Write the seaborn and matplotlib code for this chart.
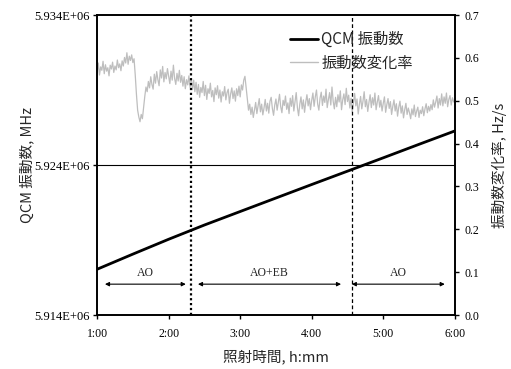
import matplotlib
matplotlib.use("Agg")
import matplotlib.pyplot as plt
from matplotlib.lines import Line2D
import seaborn as sns
import pandas as pd

# ---- data ----
qcm_hours = [1.0, 1.5, 2.0, 2.5, 3.0, 3.5, 4.0, 4.5, 5.0, 5.5, 6.0]
qcm_freq = [5.91705e6, 5.91806e6, 5.91905e6, 5.92000e6, 5.92090e6, 5.92180e6,
            5.92270e6, 5.92359e6, 5.92448e6, 5.92538e6, 5.92627e6]

# rate of change, sampled every minute from 1:00 to 6:00
rate_values = [
    0.566, 0.588, 0.560, 0.579, 0.571, 0.592, 0.563, 0.584, 0.569, 0.577,
    0.558, 0.583, 0.574, 0.590, 0.566, 0.581, 0.572, 0.595, 0.577, 0.586,
    0.570, 0.593, 0.581, 0.601, 0.588, 0.612, 0.585, 0.604, 0.594, 0.607,
    0.589, 0.598, 0.560, 0.515, 0.478, 0.462, 0.451, 0.468, 0.458, 0.484,
    0.510, 0.532, 0.521, 0.545, 0.530, 0.556, 0.538, 0.527, 0.562, 0.541,
    0.568, 0.549, 0.535, 0.572, 0.553, 0.580, 0.544, 0.566, 0.551, 0.575,
    0.557, 0.540, 0.569, 0.548, 0.583, 0.552, 0.538, 0.564, 0.546, 0.571,
    0.543, 0.559, 0.534, 0.556, 0.528, 0.549, 0.537, 0.558, 0.531, 0.552,
    0.526, 0.548, 0.521, 0.543, 0.515, 0.538, 0.508, 0.531, 0.519, 0.545,
    0.512, 0.536, 0.503, 0.528, 0.517, 0.541, 0.509, 0.524, 0.498, 0.530,
    0.514, 0.535, 0.506, 0.525, 0.497, 0.521, 0.511, 0.533, 0.502, 0.519,
    0.527, 0.494, 0.516, 0.530, 0.505, 0.523, 0.499, 0.528, 0.512, 0.534,
    0.509, 0.537, 0.525, 0.548, 0.557, 0.531, 0.503, 0.478, 0.492, 0.468,
    0.485, 0.461, 0.479, 0.496, 0.470, 0.488, 0.505, 0.474, 0.492, 0.467,
    0.483, 0.503, 0.476, 0.494, 0.471, 0.499, 0.508, 0.482, 0.466, 0.490,
    0.504, 0.478, 0.497, 0.515, 0.486, 0.472, 0.501, 0.489, 0.511, 0.480,
    0.495, 0.470, 0.506, 0.487, 0.512, 0.476, 0.498, 0.519, 0.484, 0.465,
    0.492, 0.509, 0.481, 0.502, 0.473, 0.497, 0.514, 0.488, 0.505, 0.479,
    0.501, 0.518, 0.487, 0.509, 0.525, 0.492, 0.478, 0.506, 0.520, 0.489,
    0.511, 0.496, 0.527, 0.484, 0.503, 0.519, 0.490, 0.532, 0.499, 0.481,
    0.508, 0.486, 0.514, 0.497, 0.523, 0.479, 0.502, 0.516, 0.491, 0.529,
    0.498, 0.513, 0.483, 0.506, 0.474, 0.495, 0.517, 0.488, 0.504, 0.469,
    0.492, 0.510, 0.481, 0.499, 0.521, 0.486, 0.503, 0.475, 0.496, 0.514,
    0.484, 0.507, 0.490, 0.518, 0.479, 0.497, 0.512, 0.485, 0.501, 0.476,
    0.494, 0.509, 0.473, 0.491, 0.505, 0.482, 0.498, 0.468, 0.487, 0.502,
    0.476, 0.493, 0.464, 0.485, 0.499, 0.471, 0.488, 0.460, 0.479, 0.494,
    0.468, 0.483, 0.472, 0.458, 0.481, 0.467, 0.490, 0.463, 0.476, 0.485,
    0.461, 0.478, 0.470, 0.486, 0.465, 0.481, 0.493, 0.472, 0.487, 0.476,
    0.491, 0.479, 0.502, 0.485, 0.497, 0.511, 0.483, 0.505, 0.490, 0.516,
    0.488, 0.509, 0.494, 0.518, 0.486, 0.503, 0.512, 0.490, 0.507, 0.498,
    0.495,
]
rate_start_hour = 1.0
rate_step_min = 1

x_ticks = [1, 2, 3, 4, 5, 6]
x_tick_labels = ["1:00", "2:00", "3:00", "4:00", "5:00", "6:00"]
y_left_ticks = [5.914e6, 5.924e6, 5.934e6]
y_right_ticks = [0.0, 0.1, 0.2, 0.3, 0.4, 0.5, 0.6, 0.7]

boundaries = [2.317, 4.557]
segments = [(1.11, 2.24, "AO"), (2.41, 4.41, "AO+EB"), (4.56, 5.86, "AO")]

series_labels = ["QCM 振動数", "振動数変化率"]

# ---- build frames ----
rate_hours = [rate_start_hour + i * rate_step_min / 60 for i in range(len(rate_values))]
df_qcm = pd.DataFrame({"t": qcm_hours, "f": qcm_freq})
df_rate = pd.DataFrame({"t": rate_hours, "r": rate_values})

sns.set_style("ticks")
cjk = ["Noto Sans CJK JP", "DejaVu Sans"]
serif = ["Liberation Serif", "DejaVu Serif"]
plt.rcParams["font.family"] = cjk

fig = plt.figure(figsize=(5.11, 3.69), dpi=100)
ax = fig.add_axes([0.19, 0.1463, 0.700, 0.8130])
ax2 = ax.twinx()

gray = "#bebebe"
sns.lineplot(data=df_rate, x="t", y="r", ax=ax2, color=gray, lw=0.9, zorder=2)
ax.set_zorder(ax2.get_zorder() + 1)
ax.patch.set_visible(False)
sns.lineplot(data=df_qcm, x="t", y="f", ax=ax, color="black", lw=2.0, zorder=3)

ax.set_xlim(1, 6)
ax.set_ylim(5.914e6, 5.934e6)
ax2.set_ylim(0, 0.7)

ax.set_xticks(x_ticks)
ax.set_xticklabels(x_tick_labels, family=serif, fontsize=8.5)
ax.set_yticks(y_left_ticks)
ax.set_yticklabels(["{:.3E}".format(v) for v in y_left_ticks], family=serif, fontsize=9)
ax2.set_yticks(y_right_ticks)
ax2.set_yticklabels(["{:.1f}".format(v) for v in y_right_ticks], family=serif, fontsize=8.5)

ax.axhline(5.924e6, color="black", lw=0.8, zorder=1)

for a in (ax, ax2):
    for s in a.spines.values():
        s.set_visible(True)
        s.set_linewidth(1.2)
        s.set_color("black")
    a.tick_params(direction="out", length=3, width=1, colors="black")
ax.tick_params(axis="x", pad=6)
ax.tick_params(axis="y", pad=2)
ax2.tick_params(axis="y", pad=4)

ax.set_xlabel("照射時間, h:mm", fontsize=10.5, labelpad=7)
ax.set_ylabel("QCM 振動数, MHz", fontsize=10.5, labelpad=0)
ax2.set_ylabel("振動数変化率, Hz/s", fontsize=10.5, labelpad=9)

# boundaries
ax.axvline(boundaries[0], color="black", lw=1.6, ls=(0, (1, 1.2)), zorder=4)
ax.axvline(boundaries[1], color="black", lw=0.9, ls=(0, (3, 2)), zorder=4)

# segment arrows and labels
for x0, x1, lab in segments:
    ax2.annotate("", xy=(x0, 0.072), xytext=(x1, 0.072),
                 arrowprops=dict(arrowstyle="<|-|>", color="black", lw=0.8,
                                 mutation_scale=6, shrinkA=0, shrinkB=0))
    ax2.text((x0 + x1) / 2, 0.097, lab, ha="center", va="center",
             family=serif, fontsize=8.5)

handles = [Line2D([], [], color="black", lw=2.0),
           Line2D([], [], color=gray, lw=1.0)]
ax.legend(handles, series_labels, loc="upper left",
          bbox_to_anchor=(0.539, 0.947), frameon=False, fontsize=11,
          borderpad=0, borderaxespad=0,
          handlelength=1.85, handletextpad=0.2, labelspacing=0.42)

fig.savefig("out.png", dpi=100)
